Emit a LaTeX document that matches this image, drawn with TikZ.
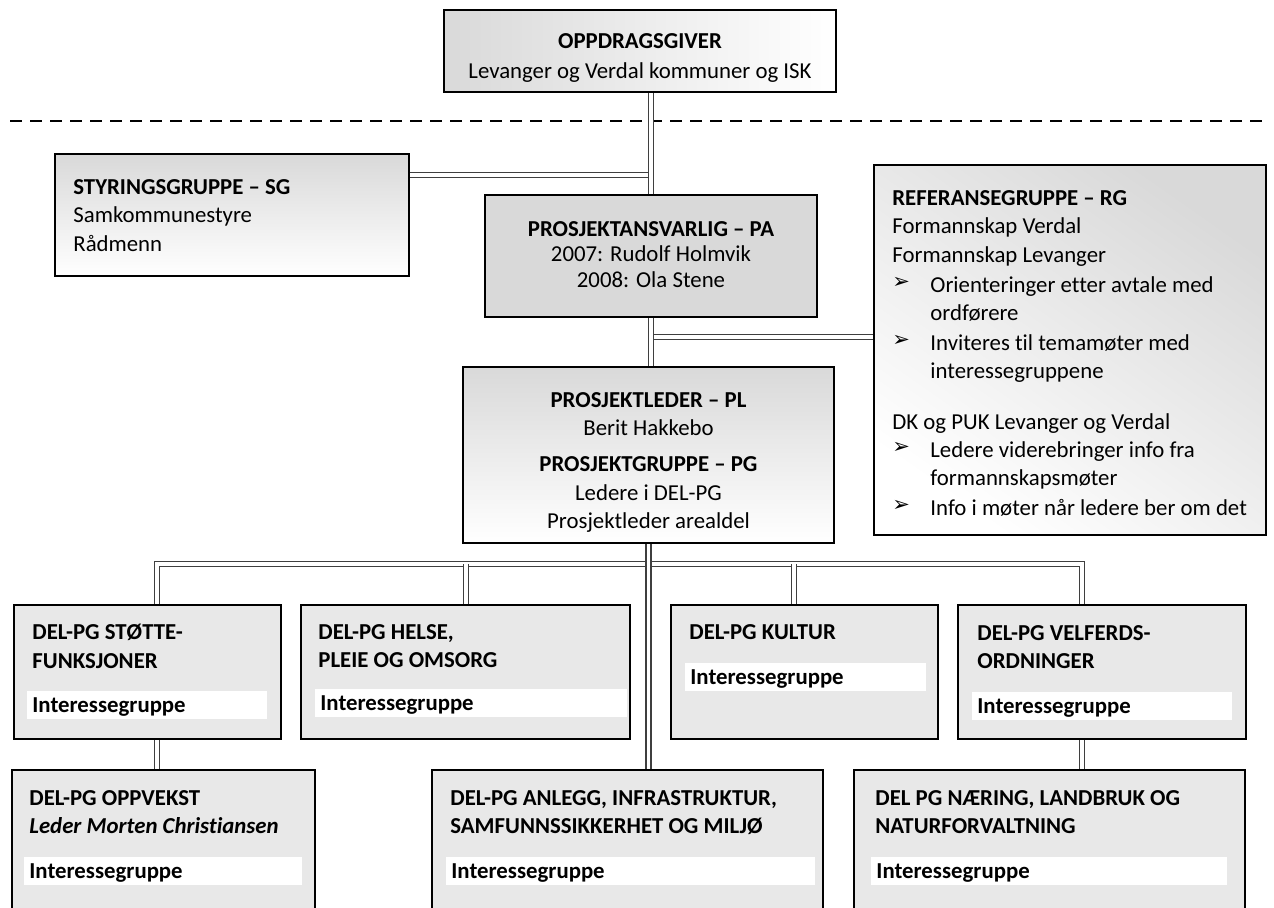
\documentclass[tikz,border=0pt]{standalone}
\usepackage{fontspec}
\setmainfont{Carlito}[Ligatures={TeX,NoCommon}]
\newfontfamily\pilfont{DejaVu Sans}

\definecolor{boxgray}{HTML}{D9D9D9}
\definecolor{cellgray}{HTML}{E8E8E8}
\definecolor{linegray}{HTML}{3F3F3F}

\tikzset{
  box/.style={draw=black, line width=1.2pt, inner sep=0pt},
  txt/.style={inner sep=0pt, font=\fontsize{11.4}{14.25}\selectfont},
  ctxt/.style={txt, align=center, anchor=north},
  ltxt/.style={txt, align=left, anchor=north west},
  htxt/.style={ltxt, font=\bfseries\fontsize{11.4}{14.25}\selectfont},
  igrp/.style={fill=white, anchor=north west, inner xsep=2.5pt, inner ysep=0pt,
    minimum height=13.8pt, text height=8pt, text depth=0.7pt, align=left,
    font=\bfseries\fontsize{11.4}{14.25}\selectfont},
  pil/.style={inner sep=0pt, anchor=west, font=\pilfont\fontsize{10.5}{12}\selectfont},
  dline/.style={draw=linegray, line width=0.7pt, double=white, double distance=1.8pt}
}

\begin{document}
\begin{tikzpicture}[x=0.5pt, y=-0.5pt]
        \useasboundingbox (0,0) rectangle (1274,908);
        \clip (0,0) rectangle (1274,908);

        \draw[line width=1pt, dash pattern=on 6pt off 4pt] (10,121) -- (1264,121);

        %%%%%%%%%% Caselle %%%%%%%%%%
        \node[box, left color=boxgray, right color=white, minimum width=196pt, minimum height=41pt] (OPP) at (640,51) {};
        \node[box, top color=boxgray, bottom color=white, minimum width=177pt, minimum height=61pt] (SG) at (232,215) {};
        \node[box, fill=boxgray, minimum width=166pt, minimum height=61pt] (PA) at (651,256) {};
        \node[box, top color=boxgray, bottom color=white, shading angle=-35, minimum width=196pt, minimum height=185pt] (RG) at (1070,350) {};
        \node[box, top color=boxgray, bottom color=white, minimum width=185.5pt, minimum height=88pt] (PL) at (648.5,455) {};

        \node[box, fill=cellgray, minimum width=133.5pt, minimum height=67pt] (D1) at (147.5,672) {};
        \node[box, fill=cellgray, minimum width=164.5pt, minimum height=67pt] (D2) at (465.5,672) {};
        \node[box, fill=cellgray, minimum width=133.5pt, minimum height=67pt] (D3) at (804.5,672) {};
        \node[box, fill=cellgray, minimum width=144pt, minimum height=67pt] (D4) at (1102,672) {};

        \node[box, fill=cellgray, minimum width=151.5pt, minimum height=90pt] (E1) at (163.5,860) {};
        \node[box, fill=cellgray, minimum width=195.5pt, minimum height=90pt] (E2) at (627.5,860) {};
        \node[box, fill=cellgray, minimum width=195.5pt, minimum height=90pt] (E3) at (1049.5,860) {};

        %%%%%%%%%% Testi %%%%%%%%%%
        \node[ctxt] (OPPt) at (640,33) {\textbf{OPPDRAGSGIVER}\\[0.75pt]Levanger og Verdal kommuner og ISK};
        \node[ltxt] (SGt) at (73,179) {\textbf{STYRINGSGRUPPE – SG}\\Samkommunestyre\\Rådmenn};
        \node[ctxt, font=\fontsize{11.4}{12.75}\selectfont] (PAt) at (651,221) {\textbf{PROSJEKTANSVARLIG – PA}\\2007: Rudolf Holmvik\\2008: Ola Stene};
        \node[ctxt] (PLt) at (648.5,392) {\textbf{PROSJEKTLEDER – PL}\\Berit Hakkebo\\[3.75pt]\textbf{PROSJEKTGRUPPE – PG}\\Ledere i DEL-PG\\Prosjektleder arealdel};

        \node[ltxt] (RGt) at (892,190) {\textbf{REFERANSEGRUPPE – RG}\\Formannskap Verdal\\Formannskap Levanger};
        \node[pil] (RGp1) at (892,283) {➢};
        \node[ltxt] (RGb1) at (930,276) {Orienteringer etter avtale med\\ordførere};
        \node[pil] (RGp2) at (892,341) {➢};
        \node[ltxt] (RGb2) at (930,334) {Inviteres til temamøter med\\interessegruppene};
        \node[ltxt] (RGt2) at (892,413) {DK og PUK Levanger og Verdal};
        \node[pil] (RGp3) at (892,448) {➢};
        \node[ltxt] (RGb3) at (930,441) {Ledere viderebringer info fra\\formannskapsmøter};
        \node[pil] (RGp4) at (892,506) {➢};
        \node[ltxt] (RGb4) at (930,499) {Info i møter når ledere ber om det};

        \node[htxt] (D1t) at (32,624) {DEL-PG STØTTE-\\FUNKSJONER};
        \node[htxt] (D2t) at (318,624) {DEL-PG HELSE,\\PLEIE OG OMSORG};
        \node[htxt] (D3t) at (689,624) {DEL-PG KULTUR};
        \node[htxt] (D4t) at (977,625) {DEL-PG VELFERDS-\\ORDNINGER};
        \node[igrp, text width=115pt] (D1i) at (27,691) {Interessegruppe};
        \node[igrp, text width=151pt] (D2i) at (315,689) {Interessegruppe};
        \node[igrp, text width=115.5pt] (D3i) at (685,663) {Interessegruppe};
        \node[igrp, text width=125pt] (D4i) at (972,692) {Interessegruppe};

        \node[htxt] (E1t) at (29,790) {DEL-PG OPPVEKST\\\textit{Leder Morten Christiansen}};
        \node[htxt] (E2t) at (450,790) {DEL-PG ANLEGG, INFRASTRUKTUR,\\SAMFUNNSSIKKERHET OG MILJØ};
        \node[htxt] (E3t) at (875,790) {DEL PG NÆRING, LANDBRUK OG\\NATURFORVALTNING};
        \node[igrp, text width=134pt] (E1i) at (24,857) {Interessegruppe};
        \node[igrp, text width=179.5pt] (E2i) at (446,857) {Interessegruppe};
        \node[igrp, text width=173pt] (E3i) at (871,857) {Interessegruppe};

        %%%%%%%%%% Collegamenti %%%%%%%%%%
        \coordinate (SGJ) at (651,175);
        \coordinate (RGJ) at (651,337);
        \coordinate (B1) at (157,564);
        \coordinate (B2) at (466,564);
        \coordinate (B3) at (794,564);
        \coordinate (B4) at (1082,564);

        \draw[dline] (SG.east |- SGJ) -- (SGJ);
        \draw[dline] (RGJ) -- (RG.west |- RGJ);
        \draw[dline] (OPP.south -| PA.north) -- (PA.north);
        \draw[dline] (PA.south) -- (PA.south |- PL.north);
        \draw[dline] (B1 |- D1.north) -- (B1) -- (B4) -- (B4 |- D4.north);
        \draw[dline] (B2) -- (B2 |- D2.north);
        \draw[dline] (B3) -- (B3 |- D3.north);
        \draw[dline] (PL.south) -- (PL.south |- E2.north);
        \draw[dline] (B1 |- D1.south) -- (B1 |- E1.north);
        \draw[dline] (B4 |- D4.south) -- (B4 |- E3.north);
    \end{tikzpicture}
\end{document}
